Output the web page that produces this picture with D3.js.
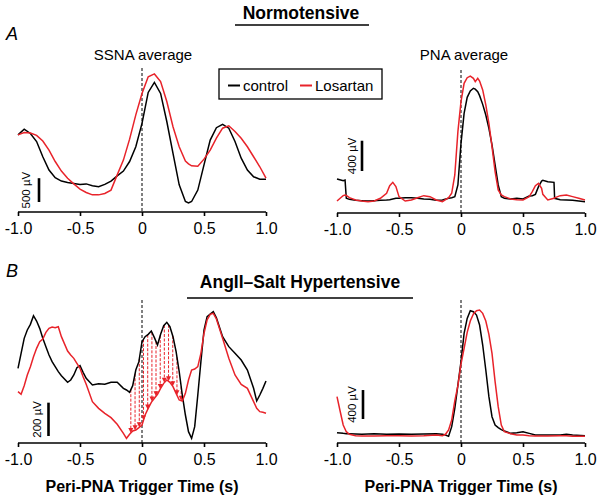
<!DOCTYPE html>
<html>
<head>
<meta charset="utf-8">
<script src="https://cdn.jsdelivr.net/npm/d3@7"></script>
<style>
body { margin: 0; background: #fff; }
svg { font-family: "Liberation Sans", Arial, Helvetica, sans-serif; }
</style>
</head>
<body>
<svg id="fig" width="602" height="501"></svg>
<script>
// x ticks, shared by all four panels
const tickValues = [-1, -0.5, 0, 0.5, 1]
const tickLabels = ["-1.0", "-0.5", "0", "0.5", "1.0"]

// A: normotensive, SSNA average (µV)
const ssnaNormTime = [-1,-0.95,-0.9,-0.85,-0.8,-0.75,-0.7,-0.65,-0.6,-0.55,-0.5,-0.45,-0.4,-0.35,-0.3,-0.25,-0.2,-0.15,-0.1,-0.05,0,0.05,0.1,0.15,0.2,0.25,0.3,0.35,0.375,0.4,0.45,0.5,0.55,0.6,0.65,0.7,0.75,0.8,0.85,0.9,0.95,1]
const ssnaNormControl = [1620,1740,1650,1480,1160,880,720,650,620,600,580,590,550,530,580,650,760,860,1060,1370,1860,2510,2720,2490,1900,1230,570,220,190,220,460,990,1510,1770,1840,1760,1480,1130,880,740,690,690]
const ssnaNormLosartan = [1620,1670,1660,1610,1490,1300,1060,860,710,590,480,410,360,360,390,460,780,1090,1530,2040,2490,2840,2900,2740,2320,1790,1370,1070,1010,970,960,1110,1300,1550,1760,1810,1690,1550,1370,1160,950,710]

// A: normotensive, PNA average (µV)
const pnaNormTime = [-1,-0.97,-0.95,-0.935,-0.925,-0.9,-0.85,-0.8,-0.75,-0.7,-0.65,-0.6,-0.575,-0.55,-0.525,-0.5,-0.45,-0.4,-0.35,-0.3,-0.25,-0.2,-0.15,-0.1,-0.075,-0.05,-0.025,0,0.025,0.05,0.075,0.1,0.115,0.135,0.15,0.175,0.2,0.225,0.25,0.275,0.3,0.325,0.35,0.4,0.45,0.5,0.55,0.575,0.6,0.625,0.65,0.66,0.7,0.75,0.755,0.8,0.85,0.9,0.95,1]
const pnaNormControl = [450,436,427,436,194,180,167,163,158,163,167,172,176,185,194,194,202,202,194,185,180,167,172,194,202,216,370,920,1316,1527,1610,1646,1635,1600,1549,1434,1294,1118,898,634,370,216,194,185,194,185,224,229,246,348,422,431,414,405,194,176,172,167,158,150]
const pnaNormLosartan = [158,202,229,238,232,202,172,158,150,158,194,260,361,405,348,216,158,172,202,229,216,172,150,202,260,502,1074,1470,1712,1786,1808,1778,1734,1778,1742,1624,1426,1184,876,546,304,238,216,185,176,172,216,282,361,392,326,246,172,194,200,229,238,216,194,172]

// B: AngII-salt hypertensive, SSNA average (µV)
const ssnaHypTime = [-1,-0.975,-0.95,-0.925,-0.9,-0.875,-0.85,-0.825,-0.8,-0.775,-0.75,-0.725,-0.7,-0.675,-0.65,-0.6,-0.575,-0.55,-0.525,-0.5,-0.475,-0.45,-0.4,-0.35,-0.3,-0.25,-0.2,-0.15,-0.125,-0.1,-0.075,-0.05,-0.025,0,0.025,0.05,0.075,0.1,0.125,0.15,0.175,0.2,0.225,0.25,0.275,0.3,0.325,0.35,0.375,0.4,0.425,0.45,0.475,0.5,0.525,0.55,0.575,0.6,0.65,0.7,0.75,0.8,0.85,0.9,0.925,0.95,0.975,1]
const ssnaHypControl = [448,538,628,678,712,764,732,688,628,578,528,488,458,428,404,364,378,408,452,464,424,388,348,356,352,364,364,328,318,304,344,438,488,608,638,652,672,632,588,652,704,724,698,638,548,428,288,168,68,28,98,288,488,678,758,774,788,752,638,578,538,498,438,328,252,288,328,372]
const ssnaHypLosartan = [308,292,344,408,458,518,568,608,624,664,688,696,692,698,638,552,528,508,478,448,398,352,248,208,178,152,112,58,28,52,72,78,92,108,168,208,244,268,292,328,358,378,364,338,298,258,252,298,378,438,444,458,538,658,738,772,778,744,628,508,408,352,328,248,208,188,184,178]
// times of the red drop arrows (control -> Losartan)
const arrowTimes = [-0.09,-0.056,-0.022,0.012,0.046,0.08,0.113,0.147,0.18,0.214,0.248,0.282,0.316]

// B: AngII-salt hypertensive, PNA average (µV)
const pnaHypTime = [-1,-0.975,-0.95,-0.925,-0.9,-0.85,-0.8,-0.7,-0.6,-0.5,-0.4,-0.3,-0.2,-0.15,-0.125,-0.1,-0.075,-0.05,-0.025,0,0.025,0.05,0.075,0.1,0.125,0.15,0.175,0.2,0.225,0.25,0.275,0.3,0.325,0.35,0.4,0.45,0.5,0.55,0.6,0.7,0.8,0.85,0.9,1]
const pnaHypControl = [143,138,133,129,129,124,120,129,120,124,120,124,129,120,110,92,225,478,800,1122,1513,1720,1826,1812,1766,1628,1352,1007,639,363,248,212,184,166,133,143,156,133,110,110,110,120,110,101]
const pnaHypLosartan = [639,442,248,156,120,101,97,97,101,101,97,101,110,101,120,179,317,580,791,1090,1306,1527,1684,1780,1826,1835,1789,1684,1500,1237,846,501,248,156,129,110,110,101,97,97,101,101,92,92]

const colors = {control: "#000000", losartan: "#e8232a"}

const svg = d3.select("#fig")

// panel layout
const panels = [
    {x0: 18, x1: 266, axisY: 212, yMax: 3150, time: ssnaNormTime, ctl: ssnaNormControl, los: ssnaNormLosartan,
        dashTop: 68, bar: {x: 39, base: 210, size: 500, label: "500 µV", lx: 26}},
    {x0: 337, x1: 585, axisY: 213, yMax: 1980, time: pnaNormTime, ctl: pnaNormControl, los: pnaNormLosartan,
        dashTop: 70, bar: {x: 362, base: 554, size: 400, label: "400 µV", lx: 352}},
    {x0: 18, x1: 266, axisY: 443, yMax: 900, time: ssnaHypTime, ctl: ssnaHypControl, los: ssnaHypLosartan,
        dashTop: 300, bar: {x: 48.5, base: 42, size: 200, label: "200 µV", lx: 37}, arrows: arrowTimes, xTitle: true},
    {x0: 337, x1: 585, axisY: 443, yMax: 2070, time: pnaHypTime, ctl: pnaHypControl, los: pnaHypLosartan,
        dashTop: 300, bar: {x: 363, base: 331, size: 400, label: "400 µV", lx: 352}, xTitle: true}
]

panels.forEach(drawPanel)

function drawPanel(p) {
    const x = d3.scaleLinear().domain([-1, 1]).range([p.x0, p.x1])
    const y = d3.scaleLinear().domain([0, p.yMax]).range([p.axisY, p.axisY - 150])
    const g = svg.append("g")

    //x axis with ticks pointing down
    const axis = g.append("g")
        .attr("transform", "translate(0," + p.axisY + ")")
        .call(d3.axisBottom(x).tickValues(tickValues).tickSize(4).tickPadding(7)
            .tickFormat((d, i) => tickLabels[i]))
    axis.select(".domain").attr("stroke-width", 1.6).attr("d", "M" + p.x0 + ",0H" + p.x1)
    axis.selectAll(".tick line").attr("stroke-width", 1.6)
    axis.selectAll(".tick text")
        .attr("font-size", 16)
        .attr("font-family", "Liberation Sans, Arial, sans-serif")
        .attr("fill", "#000")

    //trigger line at t = 0
    g.append("line")
        .attr("x1", x(0)).attr("x2", x(0))
        .attr("y1", p.dashTop).attr("y2", p.axisY)
        .attr("stroke", "#000").attr("stroke-width", 1)
        .attr("stroke-dasharray", "3,2")

    const ctl = p.time.map((t, i) => [t, p.ctl[i]])
    const los = p.time.map((t, i) => [t, p.los[i]])
    const line = d3.line().x(d => x(d[0])).y(d => y(d[1]))

    //drop arrows drawn under the traces
    if (p.arrows) {
        const ctlAt = d3.scaleLinear().domain(p.time).range(p.ctl)
        const losAt = d3.scaleLinear().domain(p.time).range(p.los)
        p.arrows.forEach(t => {
            const xa = x(t), ya = y(ctlAt(t)), yb = y(losAt(t))
            g.append("line")
                .attr("x1", xa).attr("x2", xa)
                .attr("y1", ya).attr("y2", yb - 4)
                .attr("stroke", colors.losartan).attr("stroke-width", 1)
                .attr("stroke-dasharray", "3,1.5")
            g.append("path")
                .attr("d", "M" + (xa - 2.5) + "," + (yb - 5) + "L" + (xa + 2.5) + "," + (yb - 5) + "L" + xa + "," + yb + "Z")
                .attr("fill", colors.losartan)
        })
    }

    g.append("path").datum(ctl)
        .attr("d", line).attr("fill", "none")
        .attr("stroke", colors.control).attr("stroke-width", 1.5)
    g.append("path").datum(los)
        .attr("d", line).attr("fill", "none")
        .attr("stroke", colors.losartan).attr("stroke-width", 1.5)

    //vertical scale bar
    g.append("line")
        .attr("x1", p.bar.x).attr("x2", p.bar.x)
        .attr("y1", y(p.bar.base)).attr("y2", y(p.bar.base + p.bar.size))
        .attr("stroke", "#000").attr("stroke-width", 2.6)
    const my = (y(p.bar.base) + y(p.bar.base + p.bar.size)) / 2
    g.append("text")
        .attr("transform", "translate(" + p.bar.lx + "," + my + ") rotate(-90)")
        .attr("text-anchor", "middle").attr("dy", "0.35em")
        .attr("font-size", 11.5)
        .text(p.bar.label)

    if (p.xTitle) {
        g.append("text")
            .attr("x", (p.x0 + p.x1) / 2).attr("y", 492)
            .attr("text-anchor", "middle")
            .attr("font-size", 16).attr("font-weight", "bold")
            .text("Peri-PNA Trigger Time (s)")
    }
}

// titles
svg.append("text").attr("x", 301).attr("y", 19)
    .attr("text-anchor", "middle").attr("font-size", 17.5).attr("font-weight", "bold")
    .text("Normotensive")
svg.append("line").attr("x1", 235).attr("x2", 369).attr("y1", 25).attr("y2", 25)
    .attr("stroke", "#000").attr("stroke-width", 1.6)
svg.append("text").attr("x", 300).attr("y", 288)
    .attr("text-anchor", "middle").attr("font-size", 17.5).attr("font-weight", "bold")
    .text("AngII–Salt Hypertensive")
svg.append("line").attr("x1", 187).attr("x2", 413).attr("y1", 298).attr("y2", 298)
    .attr("stroke", "#000").attr("stroke-width", 1.6)

// panel letters
svg.append("text").attr("x", 6).attr("y", 40)
    .attr("font-size", 18).attr("font-style", "italic").text("A")
svg.append("text").attr("x", 6).attr("y", 277)
    .attr("font-size", 18).attr("font-style", "italic").text("B")

// subtitles
svg.append("text").attr("x", 143).attr("y", 60)
    .attr("text-anchor", "middle").attr("font-size", 15).text("SSNA average")
svg.append("text").attr("x", 464).attr("y", 60)
    .attr("text-anchor", "middle").attr("font-size", 15).text("PNA average")

// legend
const legend = svg.append("g")
legend.append("rect").attr("x", 219).attr("y", 69).attr("width", 163).attr("height", 30)
    .attr("fill", "#fff").attr("stroke", "#000").attr("stroke-width", 1.3)
const legendItems = [
    {label: "control", color: colors.control, x: 228},
    {label: "Losartan", color: colors.losartan, x: 300}
]
legendItems.forEach(d => {
    legend.append("line").attr("x1", d.x).attr("x2", d.x + 12).attr("y1", 85.5).attr("y2", 85.5)
        .attr("stroke", d.color).attr("stroke-width", 2)
    legend.append("text").attr("x", d.x + 15).attr("y", 90.5)
        .attr("font-size", 15).text(d.label)
})
</script>
</body>
</html>
